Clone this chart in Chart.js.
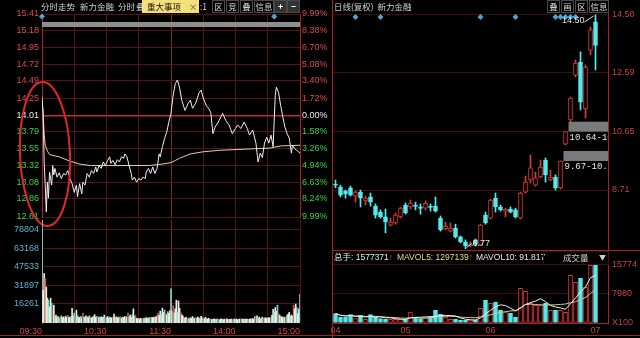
<!DOCTYPE html>
<html>
<head>
<meta charset="utf-8">
<script src="https://cdn.jsdelivr.net/npm/chart.js@4.4.1/dist/chart.umd.min.js"></script>
<style>
html, body { margin: 0; padding: 0; background: #000; width: 640px; height: 338px; overflow: hidden; }
canvas { position: absolute; }
.t { position: absolute; font: 8.5px "Noto Sans CJK SC", "Liberation Sans", sans-serif; line-height: 12px; color: #d0d0d0; white-space: nowrap; }
.b { position: absolute; font: 8.5px "Noto Sans CJK SC", sans-serif; line-height: 11px; color: #d8d8d8; border: 1px solid #4a4a4a; text-align: center; height: 11px; }
.ln { position: absolute; background: #a82020; }
</style>
</head>
<body>
<canvas id="lp" width="330" height="232" style="left:0;top:0"></canvas>
<canvas id="lv" width="330" height="120" style="left:0;top:218px"></canvas>
<canvas id="rp" width="310" height="252" style="left:330px;top:0"></canvas>
<canvas id="rv" width="310" height="88" style="left:330px;top:250px"></canvas>

<!-- left header -->
<div class="t" style="left:41px;top:0">分时走势</div>
<div class="t" style="left:80px;top:0">新力金融</div>
<div class="t" style="left:118px;top:0">分时</div>
<div class="t" style="left:136px;top:0">叠</div>
<div style="position:absolute;left:142px;top:0;width:57px;height:13px;background:#f4e07a"></div>
<div class="t" style="left:147px;top:0;color:#111">重大事项</div>
<div class="t" style="left:189px;top:0;color:#555">×</div>
<div class="t" style="left:200px;top:0">:1</div>
<div class="b" style="left:212px;top:0;width:11px">区</div>
<div class="b" style="left:226px;top:0;width:11px">竞</div>
<div class="b" style="left:240px;top:0;width:11px">叠</div>
<div class="b" style="left:254px;top:0;width:18px">信息</div>
<div class="b" style="left:274px;top:0;width:11px;font-weight:bold;color:#fff;background:#333">+</div>
<div class="b" style="left:287px;top:0;width:11px;font-weight:bold;color:#fff;background:#333">−</div>

<!-- right header -->
<div class="t" style="left:334px;top:0">日线(复权)&nbsp;&nbsp;新力金融</div>
<div class="b" style="left:547px;top:0;width:11px">叠</div>
<div class="b" style="left:561px;top:0;width:11px">画</div>
<div class="b" style="left:575px;top:0;width:11px">区</div>
<div class="b" style="left:589px;top:0;width:18px">信息</div>

<!-- right volume header -->
<div class="t" style="left:334px;top:251px;font-family:'Liberation Sans','Noto Sans CJK SC',sans-serif;color:#d8f0f0">总手: 1577371<span style="color:#e04040">↑</span></div>
<div class="t" style="left:397px;top:251px;font-family:'Liberation Sans',sans-serif;color:#e6de78">MAVOL5: 1297139<span style="color:#e04040">↑</span></div>
<div class="t" style="left:476px;top:251px;font-family:'Liberation Sans',sans-serif;color:#e8e8e8">MAVOL10: 91.817</div>
<div style="position:absolute;left:543px;top:251px;width:64px;height:12px;border:1px solid #3a1010"></div>
<div class="t" style="left:563px;top:251px">成交量</div>
<div class="t" style="left:599px;top:251px;font-size:7px">▼</div>

<div class="ln" style="left:332px;top:0;width:1px;height:338px"></div>
<div class="ln" style="left:332px;top:250px;width:308px;height:1px"></div>
<div class="ln" style="left:0;top:335px;width:640px;height:1px"></div>

<script>
// ---------- intraday (left) ----------
const prevClose = 14.01;
const priceTicks = [12.61, 12.86, 13.08, 13.32, 13.55, 13.79, 14.01, 14.25, 14.49, 14.72, 14.95, 15.18, 15.41];
const pctLabels = ['9.99%', '8.24%', '6.63%', '4.94%', '3.26%', '1.58%', '0.00%', '1.72%', '3.40%', '5.08%', '6.70%', '8.38%', '9.99%'];

const priceMinutes = [0, 1, 2, 3, 4, 5, 6, 7, 9, 10, 11, 12, 14, 16, 18, 20, 22, 24, 26, 28, 30, 32, 33, 35, 37, 38, 40, 42, 44, 46, 48, 50, 51, 53, 55, 57, 59, 61, 63, 64, 66, 68, 70, 72, 74, 76, 77, 79, 81, 83, 84, 86, 88, 90, 92, 94, 96, 97, 99, 101, 103, 105, 107, 109, 110, 112, 114, 116, 118, 120, 122, 124, 126, 128, 130, 133, 136, 138, 140, 143, 146, 148, 150, 153, 155, 157, 159, 161, 164, 167, 168, 171, 174, 177, 180, 182, 185, 188, 191, 193, 196, 199, 201, 203, 205, 207, 209, 211, 213, 215, 217, 218, 220, 222, 224, 226, 228, 230, 232, 233, 235, 237, 240];
const prices = [14.27, 14.05, 13.37, 13.05, 12.68, 13.09, 12.87, 13.23, 13.05, 13.32, 13.19, 13.28, 13.16, 13.22, 13.14, 13.21, 13.19, 13.25, 13.14, 13.07, 12.95, 13.05, 12.89, 13.07, 12.93, 13.09, 13.05, 13.21, 13.16, 13.25, 13.21, 13.30, 13.23, 13.32, 13.28, 13.37, 13.32, 13.39, 13.44, 13.35, 13.39, 13.33, 13.40, 13.37, 13.44, 13.42, 13.48, 13.44, 13.32, 13.21, 13.12, 13.16, 13.09, 13.14, 13.12, 13.16, 13.14, 13.23, 13.28, 13.21, 13.30, 13.21, 13.28, 13.48, 13.44, 13.58, 13.69, 13.78, 13.92, 14.04, 14.29, 14.45, 14.50, 14.39, 14.22, 14.08, 14.18, 14.22, 14.11, 14.18, 14.32, 14.36, 14.25, 14.14, 14.11, 14.05, 13.76, 13.85, 13.92, 14.01, 14.04, 13.94, 13.88, 13.76, 13.83, 13.88, 13.83, 13.92, 13.83, 13.74, 13.81, 13.63, 13.37, 13.49, 13.43, 13.63, 13.71, 13.63, 13.74, 13.58, 14.29, 14.40, 14.33, 14.15, 13.99, 13.85, 13.76, 13.70, 13.49, 13.60, 13.55, 13.53, 13.49];

const avgMinutes = [0, 1, 2, 3, 5, 7, 16, 26, 35, 45, 100, 112, 120, 124, 128, 138, 150, 165, 195, 212, 222, 240];
const avgPrices = [14.22, 14.05, 13.75, 13.60, 13.52, 13.47, 13.44, 13.38, 13.34, 13.32, 13.32, 13.34, 13.36, 13.39, 13.42, 13.48, 13.51, 13.53, 13.55, 13.56, 13.59, 13.60];

const minuteVol = [
  110000, 27600, 41900, 37700, 30400, 21000, 19300, 13700, 21000, 16800,
  10900, 15100, 5300, 6700, 4800, 5600, 4200, 5000, 6100, 4500,
  5200, 4000, 5800, 4700, 6500, 5100, 4300, 5500, 12500, 6000,
  8400, 5200, 10900, 6300, 5000, 4600, 5600, 4400, 8400, 5200,
  4800, 6000, 5300, 4500, 6000, 5200, 4300, 5000, 5800, 7000,
  4700, 5500, 4200, 5000, 4400, 5300, 4800, 5000, 6700, 4300,
  4500, 5500, 4200, 5000, 4600, 4100, 5000, 7500, 4600, 5300,
  4400, 5000, 4700, 5400, 4200, 5000, 4800, 5500, 4500, 5200,
  8400, 5000, 6700, 4800, 7000, 12000, 5600, 6700, 4000, 3600,
  3800, 3400, 4000, 3600, 3300, 4100, 3700, 4500, 4200, 3900,
  4600, 4300, 4800, 4500, 5000, 4400, 5200, 6000, 8400, 6500,
  10000, 7200, 12500, 9000, 11000, 8000, 7000, 9500, 8200, 10500,
  29000, 9800, 14500, 8500, 12000, 19300, 9000, 18700, 12500, 9000,
  7000, 6000, 4500, 4000, 5000, 3800, 4200, 3600, 4500, 4000,
  5500, 4300, 3800, 4600, 4000, 5000, 4200, 3700, 5600, 4400,
  4000, 3500, 4800, 3700, 3300, 4000, 3500, 3000, 3200, 3000,
  3600, 3100, 2900, 3400, 3000, 2800, 3200, 3500, 3000, 2900,
  3300, 3000, 3600, 2800, 3100, 3000, 3300, 2900, 3200, 3500,
  3000, 3300, 2800, 3100, 3400, 3000, 3600, 3200, 3000, 3500,
  3100, 3300, 2900, 3200, 3600, 3000, 3800, 3200, 5500, 4000,
  6000, 3400, 5000, 3300, 4200, 5000, 4000, 4200, 4500, 3800,
  4400, 4500, 4000, 5000, 6500, 11500, 9000, 13100, 10000, 15100,
  8000, 6700, 5500, 5300, 4500, 5000, 4500, 5200, 6700, 7500,
  9000, 5500, 6700, 6000, 15000, 12000, 16000, 13000, 8000, 12000,
  24300
];
const volTicks = [16261, 31897, 47533, 63168, 78804];
const timeTicks = [0, 60, 120, 180, 240];
const timeLabels = ['09:30', '10:30', '11:30', '14:00', '15:00'];
const leftEvents = [0, 216];

// ---------- daily (right) ----------
const opens = [8.91, 8.81, 8.68, 8.78, 8.51, 8.64, 8.35, 8.48, 8.18, 7.98, 7.82, 7.55, 7.62, 7.82, 8.21, 8.15, 8.21, 8.15, 8.11, 8.18, 8.18, 7.78, 7.42, 7.35, 7.45, 7.16, 6.99, 6.86, 7.06, 6.89, 7.88, 7.78, 8.44, 8.15, 8.01, 8.08, 8.05, 7.78, 8.64, 9.04, 8.87, 9.14, 9.70, 9.04, 9.14, 8.78, 10.23, 11.03, 12.51, 12.94, 11.39, 13.34, 14.27];
const highs = [9.04, 8.87, 8.71, 8.84, 8.68, 8.71, 8.51, 8.61, 8.25, 8.05, 8.08, 7.78, 7.95, 8.15, 8.28, 8.38, 8.31, 8.25, 8.35, 8.25, 8.48, 7.85, 7.65, 7.62, 7.58, 7.19, 7.06, 6.99, 7.09, 7.58, 7.98, 8.41, 8.61, 8.21, 8.11, 8.15, 8.11, 8.64, 9.17, 9.87, 9.30, 9.70, 9.77, 9.37, 9.21, 9.67, 10.64, 11.79, 13.01, 13.28, 12.85, 14.10, 14.50];
const lows = [8.78, 8.48, 8.44, 8.51, 8.31, 8.15, 8.21, 8.18, 7.78, 7.78, 7.29, 7.52, 7.58, 7.78, 7.91, 8.08, 8.05, 7.91, 8.05, 8.01, 7.98, 7.35, 7.39, 7.32, 7.12, 6.96, 6.77, 6.82, 6.86, 6.86, 7.58, 7.75, 7.98, 8.01, 7.82, 7.95, 7.78, 7.75, 8.61, 8.94, 8.84, 9.11, 8.97, 9.01, 8.71, 8.74, 10.20, 10.97, 12.45, 11.36, 11.09, 13.18, 12.68];
const closes = [8.87, 8.54, 8.58, 8.54, 8.64, 8.44, 8.44, 8.31, 7.88, 7.82, 7.65, 7.65, 7.88, 8.11, 7.95, 8.28, 8.17, 8.10, 8.28, 8.13, 8.01, 7.39, 7.52, 7.45, 7.16, 6.99, 6.86, 6.92, 6.92, 7.55, 7.62, 8.38, 8.15, 8.05, 8.08, 7.98, 7.82, 8.61, 8.97, 9.44, 9.11, 9.47, 9.21, 9.14, 8.78, 9.67, 10.64, 11.75, 12.91, 11.62, 12.78, 14.01, 13.49];
const dayVol = [2530, 1610, 1610, 2260, 1180, 2070, 1000, 2260, 1610, 1180, 1000, 1000, 1000, 1000, 1000, 2960, 1610, 1180, 1350, 1610, 3400, 2340, 1610, 1000, 1000, 730, 730, 860, 730, 3950, 6100, 5300, 5650, 3410, 2960, 2610, 1610, 9330, 8520, 5300, 4760, 4760, 5300, 3410, 3410, 3410, 2880, 12800, 10940, 12000, 9600, 15500, 15774];
const dayTicks = [8.71, 10.65, 12.59, 14.50];
const dayVolTicks = [0, 7980, 15774];
const monthIdx = [0, 14, 31, 52];
const monthText = ['04', '05', '06', '07'];
const rightEvents = [4, 9, 29, 36, 44, 45, 46, 47, 48];
const gaps = [{ from: 46, lo: 9.67, hi: 10.00 }, { from: 47, lo: 10.64, hi: 10.97 }];
const slots = 55;

const RED = '#d83c3c', CYAN = '#54ecec', GRID = '#521414';

Chart.defaults.animation = false;
Chart.defaults.font.family = '"Liberation Sans", Arial, sans-serif';
Chart.defaults.font.size = 9;
Chart.defaults.plugins.legend.display = false;
Chart.defaults.plugins.tooltip.enabled = false;

function diamond(ctx, cx, cy, r, color) {
  ctx.fillStyle = color;
  ctx.beginPath();
  ctx.moveTo(cx, cy - r); ctx.lineTo(cx + r, cy); ctx.lineTo(cx, cy + r); ctx.lineTo(cx - r, cy);
  ctx.closePath();
  ctx.fill();
}

function movingAvg(arr, n) {
  return arr.map((v, i) => {
    const s = arr.slice(Math.max(0, i - n + 1), i + 1);
    return s.reduce((a, b) => a + b, 0) / s.length;
  });
}

function priceColor(v) {
  if (Math.abs(v - prevClose) < 0.001) return '#e8e8e8';
  return v > prevClose ? '#e04848' : '#3cd23c';
}

// fixed axis sizes, no extra label overhang padding
function noPad(s) { s.paddingTop = 0; s.paddingBottom = 0; s.paddingLeft = 0; s.paddingRight = 0; }
const fitW = w => s => { s.width = w; noPad(s); };
const fitH = h => s => { s.height = h; noPad(s); };
const fixedTicks = arr => scale => { scale.ticks = arr.map(v => ({ value: v })); };
const halfHours = [0, 30, 60, 90, 120, 150, 180, 210, 240];

const leftDeco = {
  id: 'leftDeco',
  afterDraw(chart) {
    const { ctx, chartArea: a, scales: { x } } = chart;
    ctx.save();
    ctx.fillStyle = '#8e8e8e';
    ctx.fillRect(a.left, a.top + 8, a.right - a.left, 5);
    leftEvents.forEach(m => diamond(ctx, x.getPixelForValue(m), a.top + 2.5, 3, '#4aa6d6'));
    ctx.strokeStyle = '#e02828';
    ctx.lineWidth = 2;
    ctx.beginPath();
    ctx.ellipse(45, 154, 25, 72, -0.04, 0, Math.PI * 2);
    ctx.stroke();
    ctx.restore();
  }
};

new Chart(document.getElementById('lp'), {
  type: 'line',
  plugins: [leftDeco],
  data: {
    datasets: [
      {
        data: priceMinutes.map((m, i) => ({ x: m, y: prices[i] })),
        borderColor: '#eeeeee', borderWidth: 1, pointRadius: 0, order: 0
      },
      {
        data: avgMinutes.map((m, i) => ({ x: m, y: avgPrices[i] })),
        borderColor: '#dcd2a8', borderWidth: 1, pointRadius: 0, order: 1
      }
    ]
  },
  options: {
    responsive: false,
    layout: { padding: { top: 14, bottom: 15 } },
    scales: {
      x: {
        type: 'linear', min: 0, max: 240,
        afterBuildTicks: fixedTicks(halfHours),
        ticks: { display: false },
        grid: { color: c => c.tick && c.tick.value === 120 ? '#8c2424' : GRID, drawTicks: false },
        border: { display: false },
        afterFit: fitH(0)
      },
      y: {
        min: 12.61, max: 15.41,
        afterBuildTicks: fixedTicks(priceTicks),
        ticks: { callback: v => v.toFixed(2), color: c => priceColor(c.tick.value), padding: 3 },
        grid: {
          color: c => c.tick && Math.abs(c.tick.value - prevClose) < 0.001 ? '#c42c2c' : GRID,
          lineWidth: c => c.tick && Math.abs(c.tick.value - prevClose) < 0.001 ? 1.5 : 1,
          drawTicks: false
        },
        border: { color: '#a82020' },
        afterFit: fitW(42)
      },
      y2: {
        position: 'right', min: 12.61, max: 15.41,
        afterBuildTicks: fixedTicks(priceTicks),
        ticks: { callback: (v, i) => pctLabels[i], color: c => priceColor(c.tick.value), padding: 2 },
        grid: { display: false, drawTicks: false },
        border: { color: '#a82020' },
        afterFit: fitW(30)
      }
    }
  }
});

new Chart(document.getElementById('lv'), {
  type: 'bar',
  data: {
    datasets: [{
      data: minuteVol.map((v, i) => ({ x: i, y: v })),
      backgroundColor: minuteVol.map((v, i) => i % 7 === 3 ? '#d84a4a' : (i % 3 === 0 ? '#86d8c8' : '#e2f4e8')),
      barThickness: 1,
      grouped: false
    }]
  },
  options: {
    responsive: false,
    layout: { padding: { top: 2, right: 30 } },
    scales: {
      x: {
        type: 'linear', min: 0, max: 240, offset: false,
        afterBuildTicks: fixedTicks(halfHours),
        ticks: {
          callback: v => { const k = timeTicks.indexOf(v); return k >= 0 ? timeLabels[k] : ''; },
          color: '#d04444', align: 'end', maxRotation: 0, autoSkip: false, padding: 3
        },
        grid: { color: c => c.tick && c.tick.value === 120 ? '#8c2424' : GRID, drawTicks: false, offset: false },
        border: { display: false },
        afterFit: fitH(15)
      },
      y: {
        min: 0, max: 87150,
        afterBuildTicks: fixedTicks(volTicks),
        ticks: { callback: v => String(v), color: '#5cb2cc', padding: 3 },
        grid: { color: GRID, drawTicks: false },
        border: { color: '#a82020' },
        afterFit: fitW(42)
      }
    }
  }
});

// ---------- daily candles ----------
const isUp = closes.map((c, i) => c >= opens[i]);
const slotLabels = Array.from({ length: slots }, (_, i) => String(i));

const rightDeco = {
  id: 'rightDeco',
  afterDraw(chart) {
    const { ctx, chartArea: a, scales: { x, y } } = chart;
    ctx.save();
    rightEvents.forEach(i => diamond(ctx, x.getPixelForValue(i), a.top + 14, 3, '#4aa6d6'));
    gaps.forEach(g => {
      const x0 = x.getPixelForValue(g.from) - 2;
      const yt = y.getPixelForValue(g.hi), yb = y.getPixelForValue(g.lo);
      ctx.fillStyle = '#7a7a7a';
      ctx.fillRect(x0, yt, a.right - x0, yb - yt);
      ctx.save();
      ctx.beginPath(); ctx.rect(x0, yb, a.right - x0, 14); ctx.clip();
      ctx.fillStyle = '#e6e6e6';
      ctx.font = '9px "Liberation Mono", monospace';
      ctx.textBaseline = 'top';
      ctx.fillText(g.lo.toFixed(2) + '-' + g.hi.toFixed(2), x0 + 1, yb + 1);
      ctx.restore();
    });
    ctx.font = '9px "Liberation Sans", Arial';
    ctx.fillStyle = '#e0e0e0';
    ctx.strokeStyle = '#e0e0e0';
    ctx.lineWidth = 1;
    const hi = highs.indexOf(Math.max(...highs));
    const hx = x.getPixelForValue(hi), hy = y.getPixelForValue(highs[hi]);
    ctx.beginPath(); ctx.moveTo(hx - 11, hy + 7); ctx.lineTo(hx - 2, hy + 1); ctx.stroke();
    ctx.textAlign = 'right'; ctx.textBaseline = 'middle';
    ctx.fillText(highs[hi].toFixed(2), hx - 11, hy + 6);
    const lo = lows.indexOf(Math.min(...lows));
    const lx = x.getPixelForValue(lo), ly = y.getPixelForValue(lows[lo]);
    ctx.beginPath(); ctx.moveTo(lx + 1, ly - 1); ctx.lineTo(lx + 6, ly - 5); ctx.stroke();
    ctx.textAlign = 'left';
    ctx.fillText(lows[lo].toFixed(2), lx + 7, ly - 5);
    ctx.restore();
  }
};

new Chart(document.getElementById('rp'), {
  type: 'bar',
  plugins: [rightDeco],
  data: {
    labels: slotLabels,
    datasets: [
      {
        data: lows.map((l, i) => [l, highs[i]]),
        backgroundColor: isUp.map(u => u ? RED : CYAN),
        barThickness: 1, grouped: false, order: 2
      },
      {
        data: opens.map((o, i) => [o, closes[i]]),
        backgroundColor: isUp.map(u => u ? '#000' : CYAN),
        borderColor: isUp.map(u => u ? RED : CYAN),
        borderWidth: 1, borderSkipped: false,
        barThickness: 4, grouped: false, order: 1
      }
    ]
  },
  options: {
    responsive: false,
    layout: { padding: { top: 3, bottom: 2, left: 3 } },
    scales: {
      x: { display: false },
      y: {
        position: 'right', min: 6.725, max: 14.897,
        afterBuildTicks: fixedTicks(dayTicks),
        ticks: { callback: v => v.toFixed(2), color: '#c84040', padding: 4 },
        grid: { color: '#3a0e0e', drawTicks: false },
        border: { color: '#a82020' },
        afterFit: fitW(32)
      }
    }
  }
});

new Chart(document.getElementById('rv'), {
  type: 'bar',
  data: {
    labels: slotLabels,
    datasets: [
      {
        type: 'line', data: movingAvg(dayVol, 5),
        borderColor: '#f0f0f0', borderWidth: 1, pointRadius: 0, order: 0
      },
      {
        type: 'line', data: movingAvg(dayVol, 10),
        borderColor: '#d8c890', borderWidth: 1, pointRadius: 0, order: 0
      },
      {
        data: dayVol,
        backgroundColor: isUp.map(u => u ? '#000' : CYAN),
        borderColor: isUp.map(u => u ? RED : CYAN),
        borderWidth: 1, borderSkipped: false,
        barThickness: 4, grouped: false, order: 1
      }
    ]
  },
  options: {
    responsive: false,
    layout: { padding: { top: 12, left: 3 } },
    scales: {
      x: {
        ticks: {
          callback: (v, i) => { const k = monthIdx.indexOf(i); return k >= 0 ? monthText[k] : ''; },
          color: '#c84040', autoSkip: false, maxRotation: 0, padding: 2
        },
        grid: { display: false, drawTicks: false },
        border: { color: '#a82020' },
        afterFit: fitH(15)
      },
      y: {
        position: 'right', min: 0, max: 16390,
        afterBuildTicks: fixedTicks(dayVolTicks),
        ticks: { callback: v => v === 0 ? 'X100' : String(v), color: '#c84040', padding: 4 },
        grid: { color: '#3a0e0e', drawTicks: false },
        border: { color: '#a82020' },
        afterFit: fitW(32)
      }
    }
  }
});
</script>
</body>
</html>
